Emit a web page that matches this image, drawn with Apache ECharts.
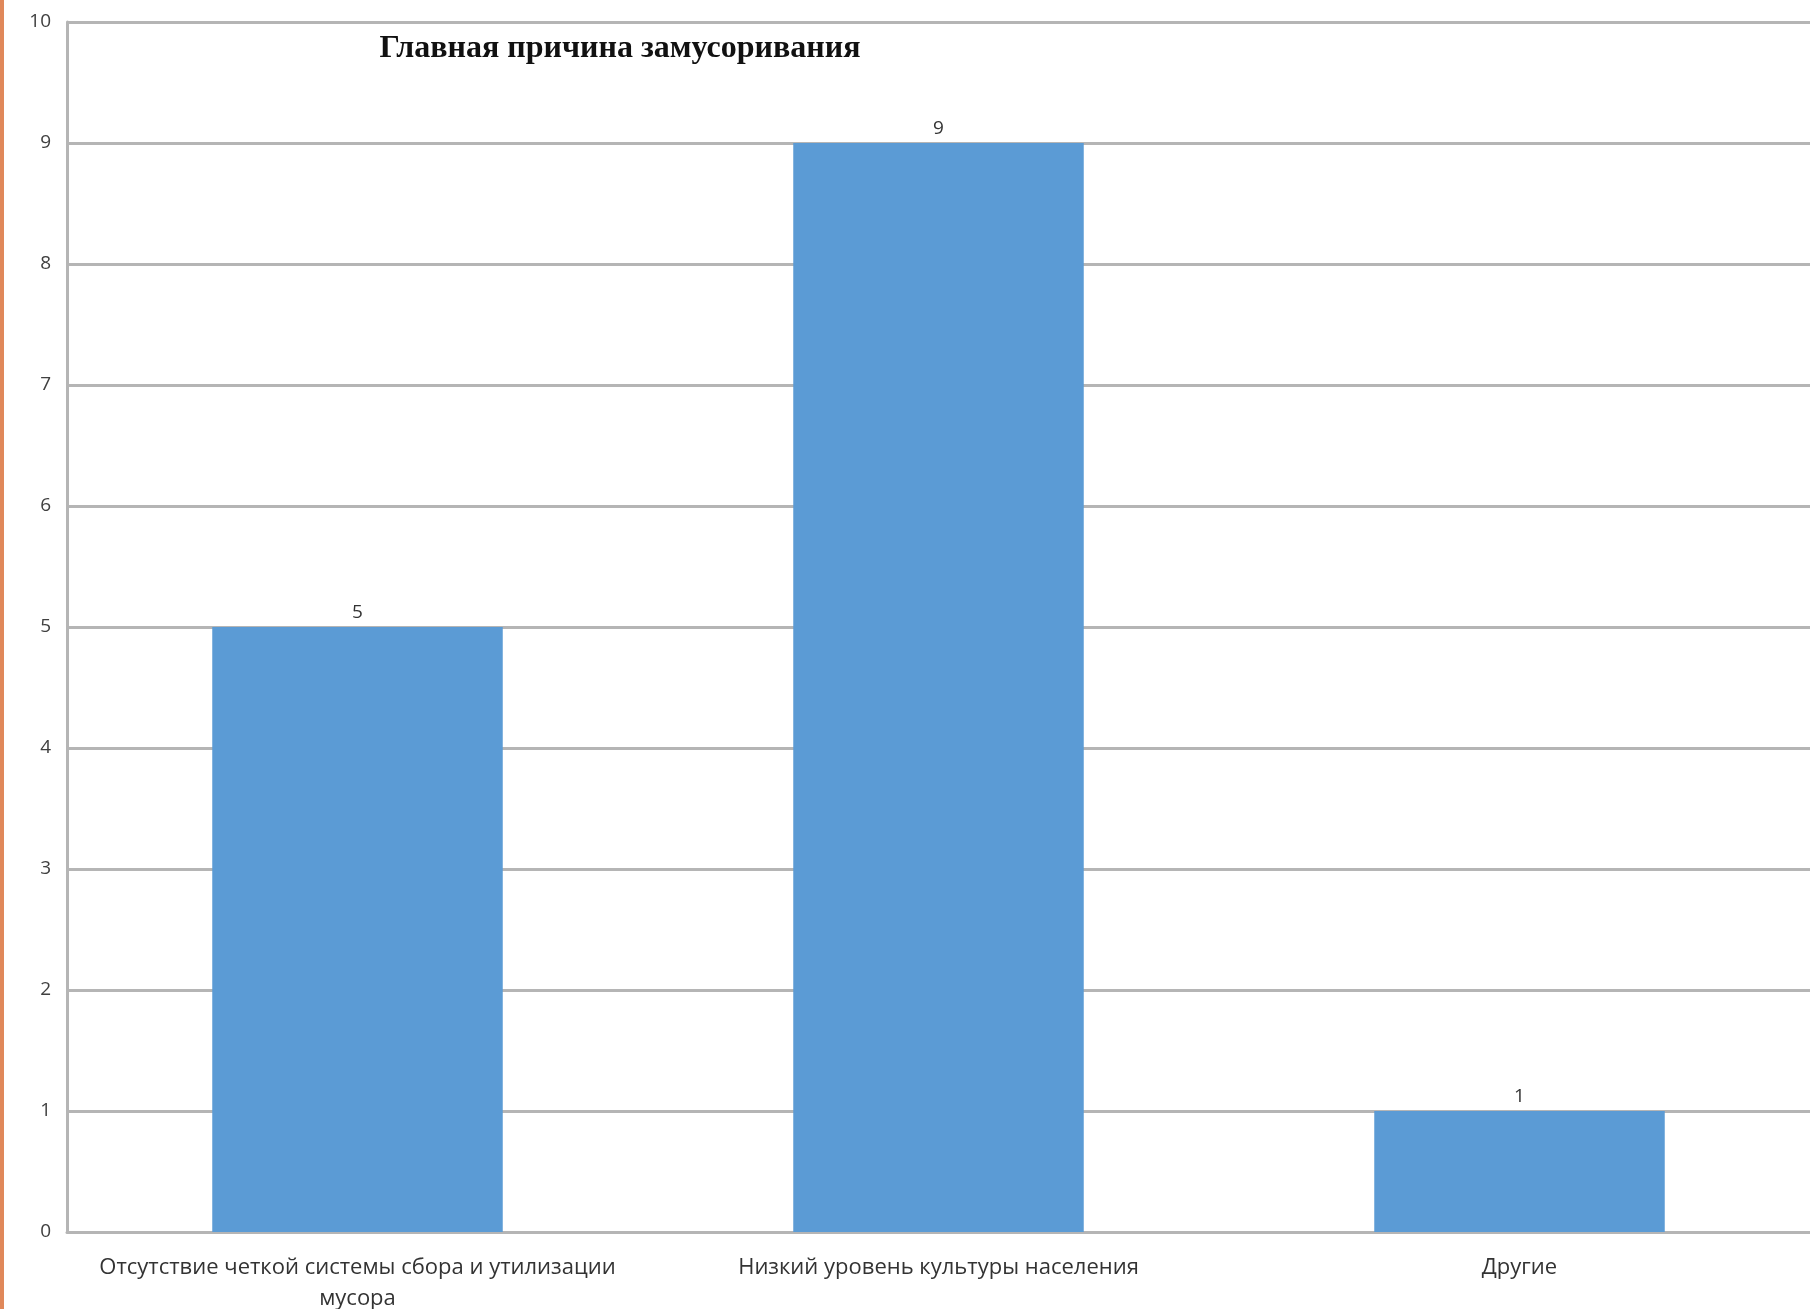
<!DOCTYPE html>
<html>
<head>
<meta charset="utf-8">
<script src="https://cdn.jsdelivr.net/npm/echarts@6/dist/echarts.min.js"></script>
<style>
html,body{margin:0;padding:0;background:#fff;}
#chart{width:1810px;height:1309px;}
</style>
</head>
<body>
<div id="chart"></div>
<script>
const titleText = 'Главная причина замусоривания';
const categories = [
  'Отсутствие четкой системы сбора и утилизации\nмусора',
  'Низкий уровень культуры населения',
  'Другие'
];
const values = [5, 9, 1];

const chart = echarts.init(document.getElementById('chart'));
chart.setOption({
  backgroundColor: '#ffffff',
  animation: false,
  title: {
    text: titleText,
    left: 615,
    top: 28,
    textAlign: 'center',
    textStyle: {
      fontFamily: 'Liberation Serif',
      fontWeight: 'bold',
      fontSize: 32,
      color: '#111111'
    }
  },
  graphic: [{
    type: 'rect',
    shape: {x: 0, y: 0, width: 4, height: 1309},
    style: {fill: '#e0885a'}
  }],
  grid: {left: 67, right: 0, top: 22, bottom: 77, containLabel: false, outerBoundsMode: 'none'},
  xAxis: {
    type: 'category',
    data: categories,
    axisLine: {lineStyle: {color: '#b5b5b5', width: 3}},
    axisTick: {show: false},
    axisLabel: {
      interval: 0,
      margin: 20,
      overflow: 'none',
      hideOverlap: false,
      lineHeight: 31,
      fontFamily: 'Open Sans',
      fontSize: 22,
      color: '#333333'
    }
  },
  yAxis: {
    type: 'value',
    min: 0,
    max: 10,
    interval: 1,
    axisLine: {show: true, lineStyle: {color: '#b5b5b5', width: 3}},
    axisTick: {show: false},
    axisLabel: {
      margin: 16,
      fontFamily: 'Open Sans',
      fontSize: 19,
      color: '#404040'
    },
    splitLine: {lineStyle: {color: '#b5b5b5', width: 3}}
  },
  series: [{
    type: 'bar',
    data: values,
    barWidth: '50%',
    itemStyle: {color: '#5b9bd5'},
    label: {
      show: true,
      position: 'top',
      distance: 5,
      fontFamily: 'Open Sans',
      fontSize: 19,
      color: '#333333'
    }
  }]
});
</script>
</body>
</html>
